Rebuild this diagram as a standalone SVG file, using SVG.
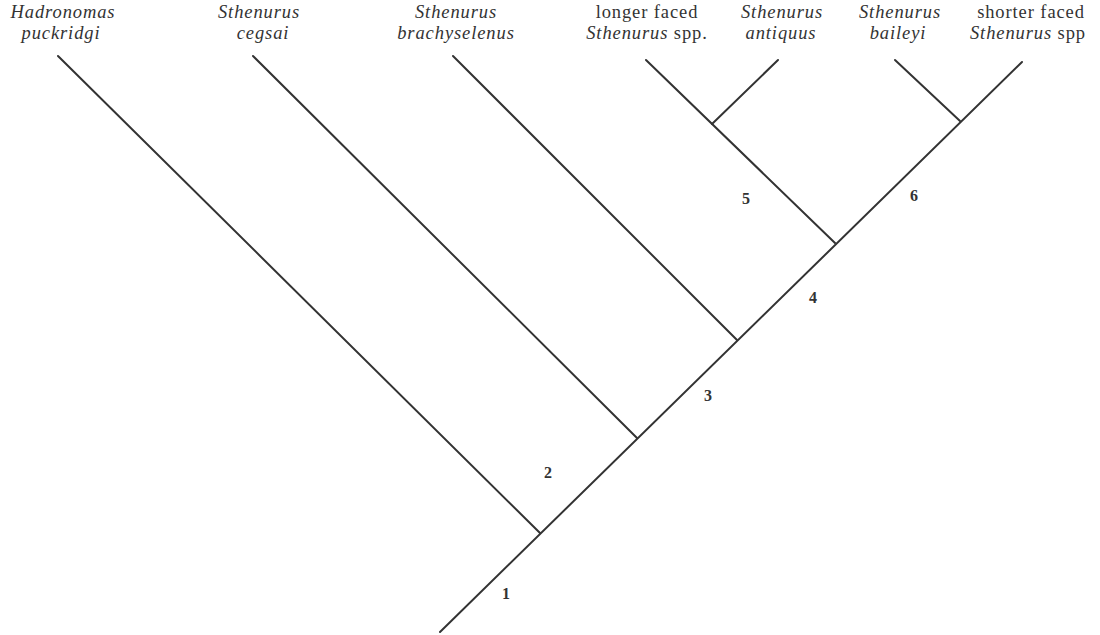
<svg xmlns="http://www.w3.org/2000/svg" width="1100" height="635" viewBox="0 0 1100 635">
<style>
.l{stroke:#333;stroke-width:2;fill:none;stroke-linecap:round}
.t{font-family:"Liberation Serif",serif;font-size:18.5px;letter-spacing:0.9px;fill:#333;text-anchor:middle}
.i{font-style:italic}
.n{font-family:"Liberation Serif",serif;font-size:16px;font-weight:bold;fill:#333;text-anchor:middle}
</style>
<rect width="1100" height="635" fill="#fff"/>
<g id="connectors">
<line class="l" x1="440" y1="632" x2="1022" y2="62"/>
<line class="l" x1="540" y1="533" x2="58" y2="56"/>
<line class="l" x1="637" y1="438" x2="253" y2="56"/>
<line class="l" x1="737" y1="340" x2="453" y2="56"/>
<line class="l" x1="835" y1="243" x2="646" y2="60"/>
<line class="l" x1="712" y1="124" x2="778" y2="60"/>
<line class="l" x1="960" y1="121" x2="895" y2="60"/>
</g>
<g id="taxon-hadronomas"><text class="t i" x="63" y="18">Hadronomas</text><text class="t i" x="61" y="39">puckridgi</text></g>
<g id="taxon-cegsai"><text class="t i" x="259" y="18">Sthenurus</text><text class="t i" x="263" y="39">cegsai</text></g>
<g id="taxon-brachyselenus"><text class="t i" x="456" y="18">Sthenurus</text><text class="t i" x="456" y="39">brachyselenus</text></g>
<g id="taxon-longer"><text class="t" x="647" y="18">longer faced</text><text class="t" x="647" y="39"><tspan class="i">Sthenurus</tspan> spp.</text></g>
<g id="taxon-antiquus"><text class="t i" x="782" y="18">Sthenurus</text><text class="t i" x="781" y="39">antiquus</text></g>
<g id="taxon-baileyi"><text class="t i" x="900" y="18">Sthenurus</text><text class="t i" x="898" y="39">baileyi</text></g>
<g id="taxon-shorter"><text class="t" x="1031" y="18">shorter faced</text><text class="t" x="1028" y="39"><tspan class="i">Sthenurus</tspan> spp</text></g>
<g id="node-labels">
<text class="n" x="506" y="599">1</text>
<text class="n" x="548" y="478">2</text>
<text class="n" x="708" y="401">3</text>
<text class="n" x="813" y="303">4</text>
<text class="n" x="746" y="204">5</text>
<text class="n" x="914" y="201">6</text>
</g>
</svg>
